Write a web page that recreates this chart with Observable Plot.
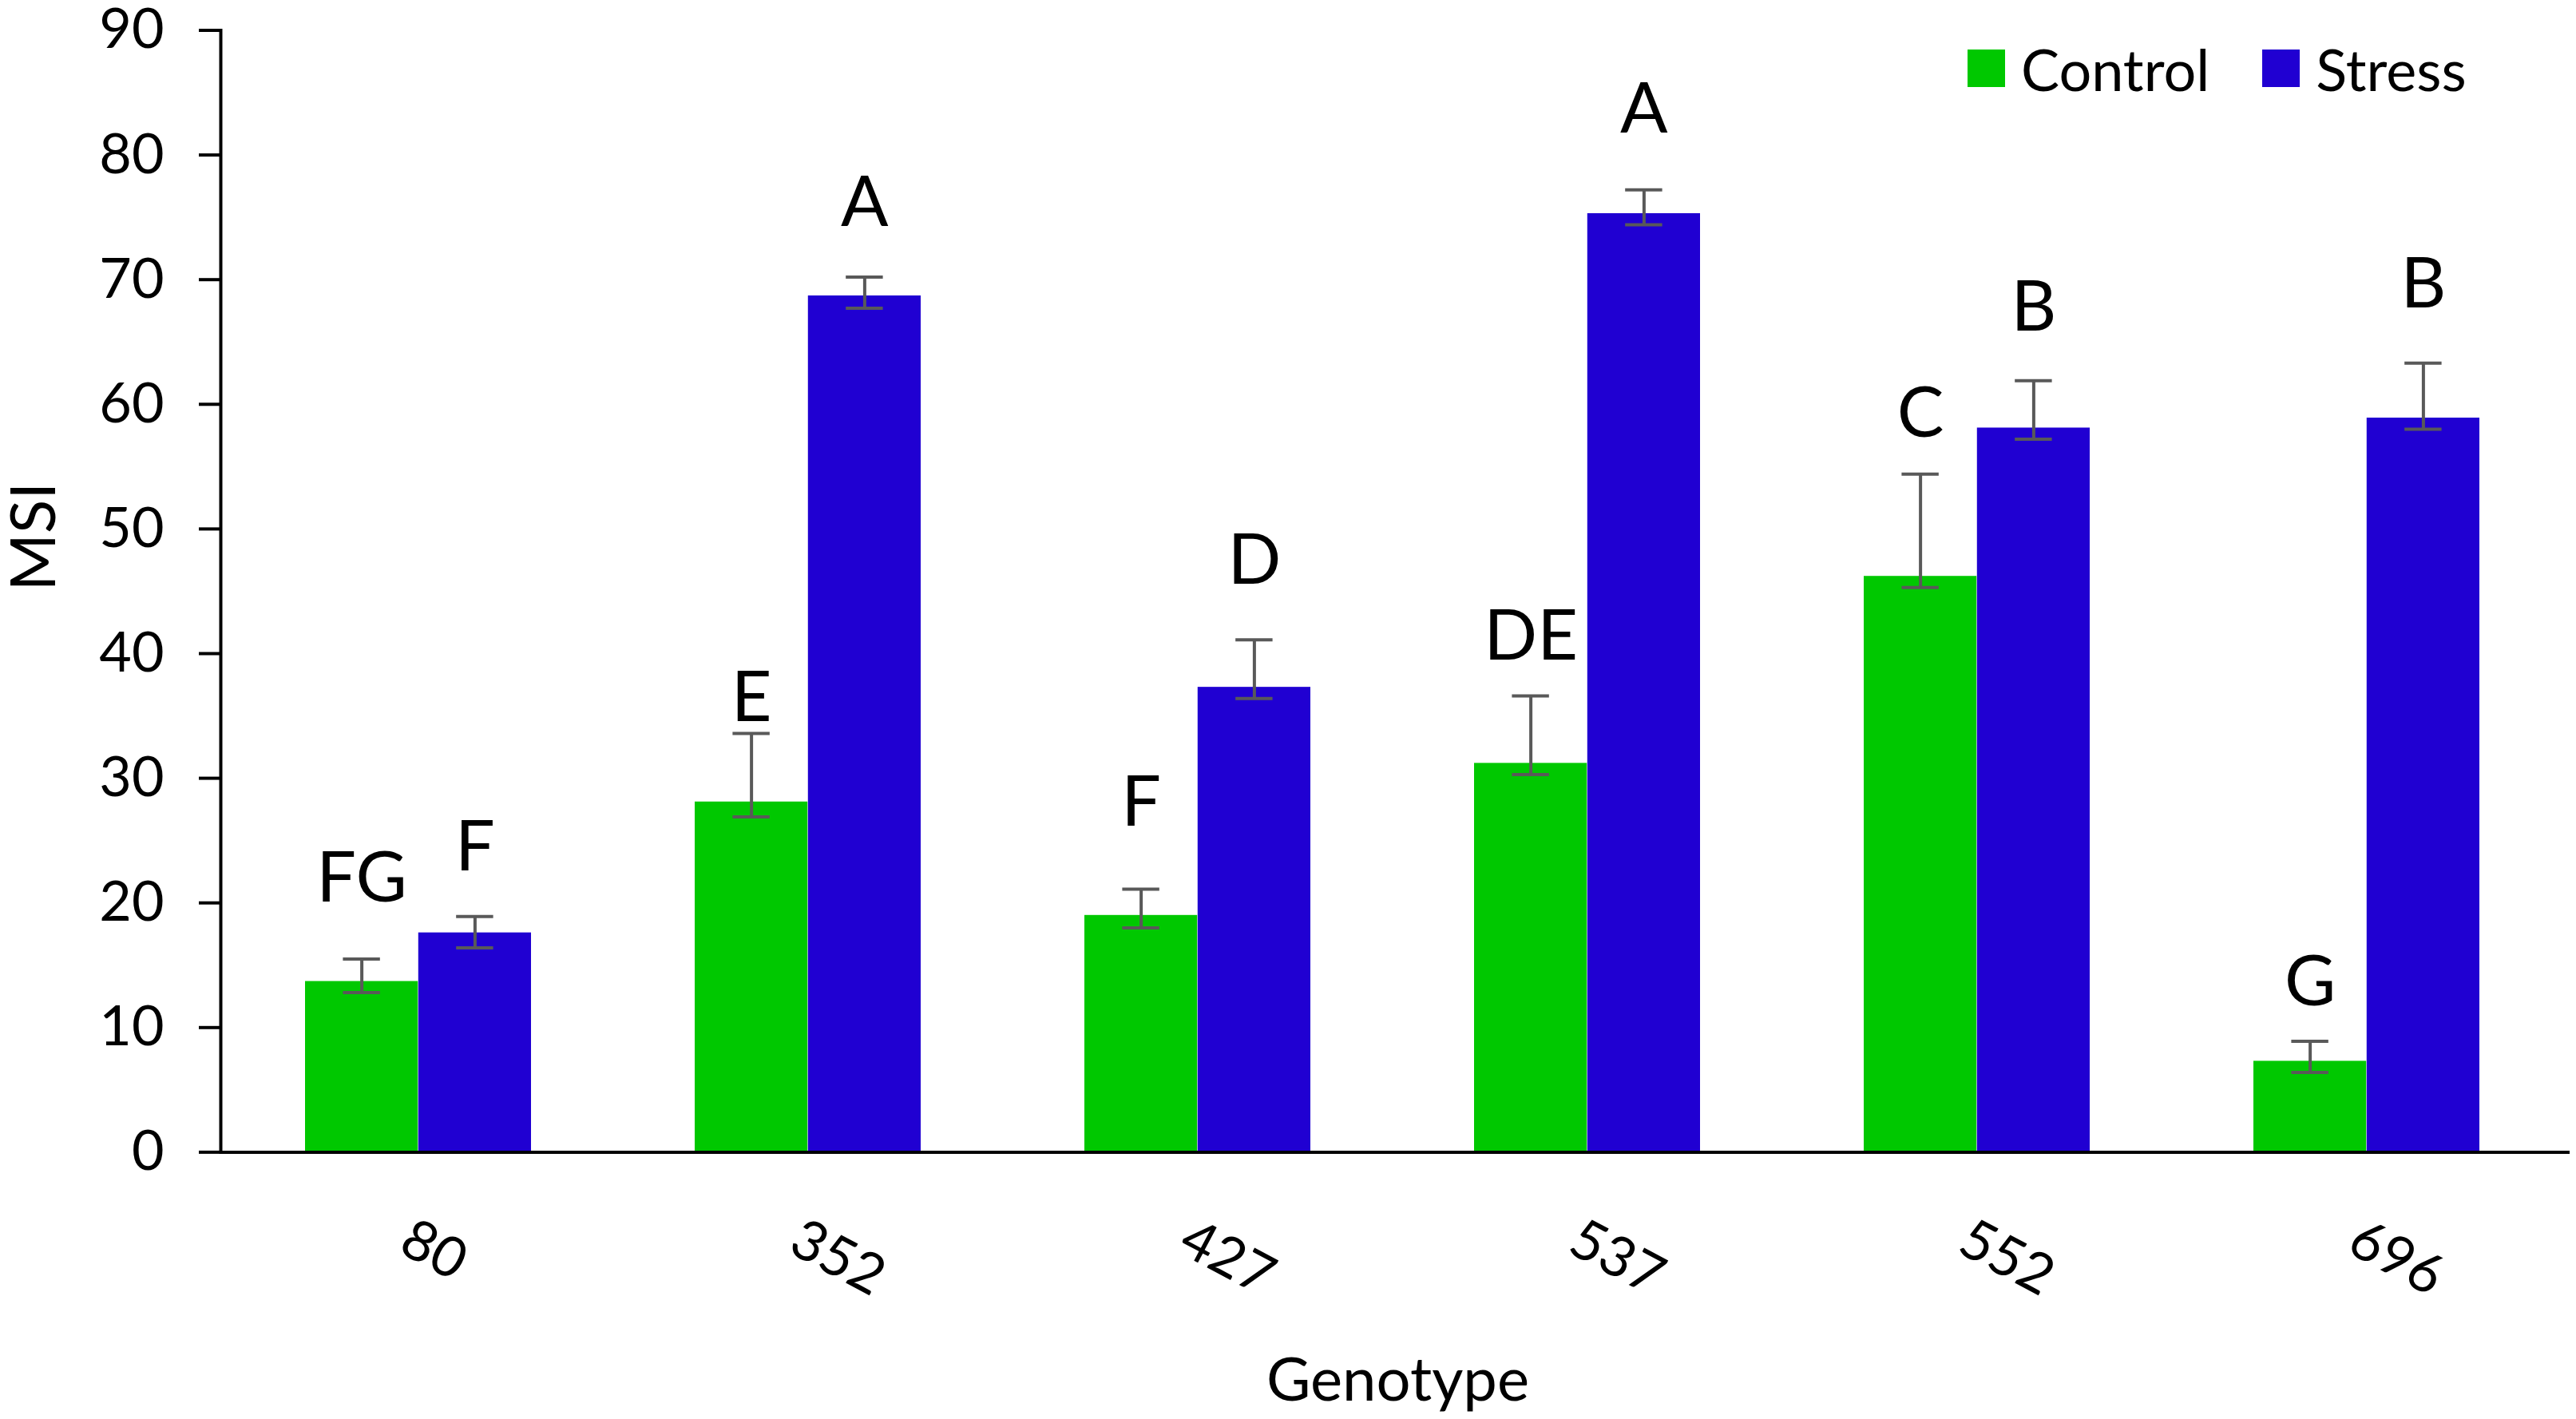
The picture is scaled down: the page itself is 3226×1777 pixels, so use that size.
<!DOCTYPE html>
<html>
<head>
<meta charset="utf-8">
<script src="https://cdn.jsdelivr.net/npm/d3@7"></script>
<script src="https://cdn.jsdelivr.net/npm/@observablehq/plot@0.6"></script>
<style>
  html, body { margin: 0; padding: 0; background: #fff; }
  #wrap { position: relative; width: 3226px; height: 1777px; font-family: Lato, "Open Sans", sans-serif; }
  #legend { position: absolute; left: 2464px; top: 62px; display: flex; align-items: center; height: 47px; font-size: 72px; color: #000; }
  #legend .item { display: flex; align-items: center; margin-right: 66px; }
  #legend .sw { width: 47px; height: 47px; margin-right: 20px; }
</style>
</head>
<body>
<div id="wrap"></div>
<script>
// ---- data ----
const genotypes = ["80", "352", "427", "537", "552", "696"];
const treatments = ["Control", "Stress"];
const colors = ["#00C800", "#2000D2"];

const controlMean = [13.7, 28.1, 19.0, 31.2, 46.2, 7.3];
const controlHi   = [15.5, 33.6, 21.1, 36.6, 54.4, 8.9];
const controlLo   = [12.8, 26.9, 18.0, 30.3, 45.3, 6.4];
const controlLetters = ["FG", "E", "F", "DE", "C", "G"];
const controlLetterAt = [20.1, 34.6, 26.2, 39.5, 57.4, 11.8];

const stressMean = [17.6, 68.7, 37.3, 75.3, 58.1, 58.9];
const stressHi   = [18.9, 70.2, 41.1, 77.2, 61.9, 63.3];
const stressLo   = [16.4, 67.7, 36.4, 74.4, 57.2, 58.0];
const stressLetters = ["F", "A", "D", "A", "B", "B"];
const stressLetterAt = [22.6, 74.3, 45.6, 81.8, 65.9, 67.8];

const yTicks = [0, 10, 20, 30, 40, 50, 60, 70, 80, 90];
const yTitle = "MSI";
const xTitle = "Genotype";

// ---- tables ----
const control = genotypes.map((g, i) => ({genotype: g, value: controlMean[i], lo: controlLo[i], hi: controlHi[i], letter: controlLetters[i], ly: controlLetterAt[i]}));
const stress  = genotypes.map((g, i) => ({genotype: g, value: stressMean[i],  lo: stressLo[i],  hi: stressHi[i],  letter: stressLetters[i],  ly: stressLetterAt[i]}));

// ---- layout ----
const W = 3226, H = 1777;
const mL = 276, mR = 14, mT = 37.5, mB = 334.6;
const padIn = 0.42, padOut = 0.2126;
const step = (W - mL - mR) / (genotypes.length - padIn + 2 * padOut);
const bw = step * (1 - padIn);       // group width
const half = bw / 2;                 // single bar width
const capW = 47;
const capInsetNear = half / 2 - capW / 2;
const capInsetFar = bw - (half / 2 + capW / 2);

const errColor = "#595959";
const font = "Lato, 'Open Sans', sans-serif";

const chart = Plot.plot({
  width: W,
  height: H,
  marginLeft: mL,
  marginRight: mR,
  marginTop: mT,
  marginBottom: mB,
  style: {fontFamily: font, background: "white", color: "#000", overflow: "visible"},
  x: {type: "band", domain: genotypes, paddingInner: padIn, paddingOuter: padOut, axis: null},
  y: {domain: [0, 90], axis: null},
  marks: [
    Plot.barY(control, {x: "genotype", y: "value", fill: colors[0], insetRight: half}),
    Plot.barY(stress,  {x: "genotype", y: "value", fill: colors[1], insetLeft: half}),
    // error bars
    Plot.ruleX(control, {x: "genotype", y1: "lo", y2: "hi", dx: -half / 2, stroke: errColor, strokeWidth: 4}),
    Plot.ruleX(stress,  {x: "genotype", y1: "lo", y2: "hi", dx:  half / 2, stroke: errColor, strokeWidth: 4}),
    Plot.tickY(control, {x: "genotype", y: "hi", insetLeft: capInsetNear, insetRight: capInsetFar, stroke: errColor, strokeWidth: 4}),
    Plot.tickY(control, {x: "genotype", y: "lo", insetLeft: capInsetNear, insetRight: capInsetFar, stroke: errColor, strokeWidth: 4}),
    Plot.tickY(stress,  {x: "genotype", y: "hi", insetLeft: capInsetFar, insetRight: capInsetNear, stroke: errColor, strokeWidth: 4}),
    Plot.tickY(stress,  {x: "genotype", y: "lo", insetLeft: capInsetFar, insetRight: capInsetNear, stroke: errColor, strokeWidth: 4}),
    // significance letters
    Plot.text(control, {x: "genotype", y: "ly", text: "letter", dx: -half / 2, lineAnchor: "bottom", fontSize: 88, fill: "#000"}),
    Plot.text(stress,  {x: "genotype", y: "ly", text: "letter", dx:  half / 2, lineAnchor: "bottom", fontSize: 88, fill: "#000"}),
    // axes
    Plot.frame({anchor: "left", stroke: "#000", strokeWidth: 4}),
    Plot.ruleY([0], {stroke: "#000", strokeWidth: 4, insetRight: -6}),
    Plot.axisY({ticks: yTicks, tickSize: 27, tickPadding: 44, fontSize: 70, strokeWidth: 4, label: null, tickFormat: d => String(d)}),
    Plot.text(genotypes, {x: d => d, y: () => 0, text: d => d, dx: -4, dy: 80, rotate: 28, textAnchor: "start", lineAnchor: "top", fontSize: 70, fill: "#000"}),
    Plot.text([yTitle], {frameAnchor: "left", dx: -232, rotate: -90, fontSize: 78, fill: "#000"}),
    Plot.text([xTitle], {frameAnchor: "bottom", dy: 311, dx: 6, lineAnchor: "bottom", fontSize: 76, fill: "#000"})
  ]
});

const wrap = document.getElementById("wrap");
wrap.appendChild(chart);

// legend (HTML, overlaid inside the plot area)
const legend = document.createElement("div");
legend.id = "legend";
treatments.forEach((t, i) => {
  const item = document.createElement("div");
  item.className = "item";
  const sw = document.createElement("div");
  sw.className = "sw";
  sw.style.background = colors[i];
  const lab = document.createElement("span");
  lab.textContent = t;
  item.appendChild(sw);
  item.appendChild(lab);
  legend.appendChild(item);
});
wrap.appendChild(legend);
</script>
</body>
</html>
